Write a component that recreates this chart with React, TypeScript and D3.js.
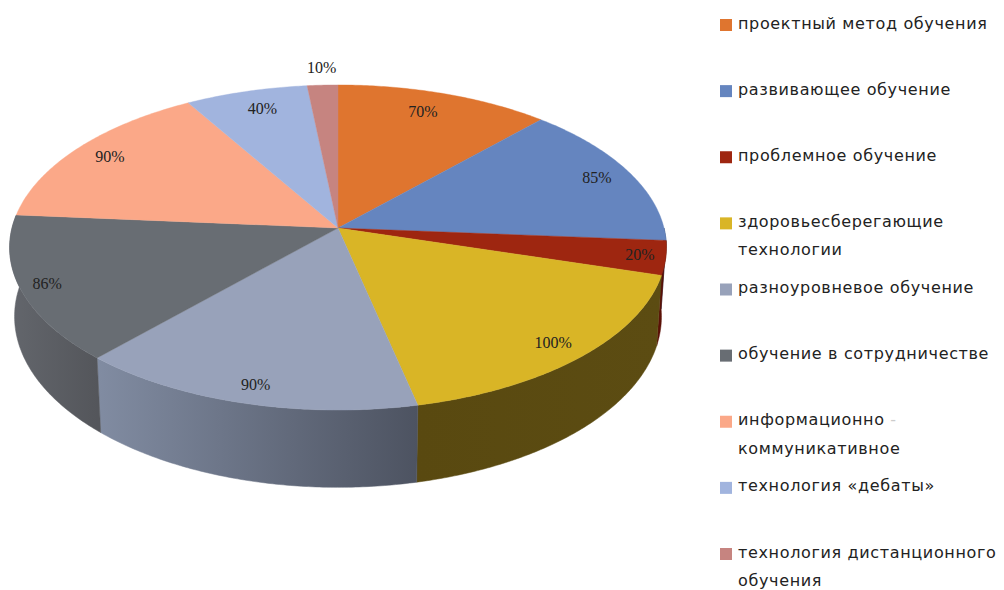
import { line, pie, range, scaleLinear, scalePoint } from "d3";

const categories = [
  ["проектный метод обучения"],
  ["развивающее обучение"],
  ["проблемное обучение"],
  ["здоровьесберегающие", "технологии"],
  ["разноуровневое обучение"],
  ["обучение в сотрудничестве"],
  ["информационно", "коммуникативное"],
  ["технология «дебаты»"],
  ["технология дистанционного", "обучения"],
];
const values = [70, 85, 20, 100, 90, 86, 90, 40, 10];
const valueLabels = ["70%", "85%", "20%", "100%", "90%", "86%", "90%", "40%", "10%"];
const topColors = ["#df752f", "#6585bf", "#9e2610", "#d9b526", "#98a2ba", "#686d73", "#fba888", "#a1b4de", "#c68480"];

// how far along the slice's middle each percent label sits (1 = rim), plus a small sideways nudge
const labelRadii = [0.85, 0.89, 0.92, 0.9, 0.91, 0.92, 0.88, 0.855, 1.135];
const labelNudge = [-7, -1, 1, -2, 3, 0, 2, 4, 1];

// perspective pie: a/b are the radii, p the foreshortening
const cx = 338;
const cy = 228;
const a = 160.2;
const b = 326;
const p = 0.12;
const depth = 68;
const bottomScale = 0.985;

const WALL_FROM = Math.PI / 2;
const WALL_TO = Math.PI * 1.525;

function project(angle: number, r: number): [number, number] {
  const x = r * Math.sin(angle);
  const y = -r * Math.cos(angle);
  const s = 1 / (1 - p * y);
  return [cx + b * x * s, cy + a * y * s];
}

function projectBottom(angle: number): [number, number] {
  const y = -Math.cos(angle);
  const s = 1 / (1 - p * y);
  const [px, py] = project(angle, 1);
  return [cx + (px - cx) * bottomScale, py + depth * s];
}

function samples(start: number, end: number) {
  const n = Math.max(2, Math.ceil((end - start) / 0.01));
  return range(n + 1).map((i) => start + ((end - start) * i) / n);
}

const path = line();

const wallGradients: Record<number, [string, string]> = {
  1: ["#33476b", "#33476b"],
  2: ["#4a0c04", "#5a1006"],
  3: ["#5c4c12", "#594910"],
  4: ["#4d5361", "#818ca2"],
  5: ["#54565b", "#62656b"],
};

export default function App() {
  const slices = pie<number>().sort(null).value((d) => d)(values);
  const legendY = scalePoint<number>()
    .domain(range(categories.length))
    .range([25, 554]);
  const legendStep = scaleLinear().domain([0, 1]).range([0, 28.5]);

  const walls = slices
    .map((slice, i) => ({ i, start: Math.max(slice.startAngle, WALL_FROM), end: Math.min(slice.endAngle, WALL_TO) }))
    .filter((w) => w.end > w.start);

  return (
    <svg width={1004} height={590} style={{ position: "absolute", left: 0, top: 0, background: "#fff" }}>
      <defs>
        {walls.map((w) => {
          const x1 = project(w.start, 1)[0];
          const x2 = project(w.end, 1)[0];
          const colors = wallGradients[w.i];
          return (
            <linearGradient key={w.i} id={`wall-${w.i}`} gradientUnits="userSpaceOnUse" x1={x1} y1={0} x2={x2} y2={0}>
              <stop offset="0" stopColor={colors[0]} />
              <stop offset="1" stopColor={colors[1]} />
            </linearGradient>
          );
        })}
      </defs>

      {walls.map((w) => {
        const angles = samples(w.start, w.end);
        const pts = [...angles.map((t) => project(t, 1)), ...angles.slice().reverse().map(projectBottom)];
        return <path key={w.i} d={`${path(pts)}Z`} fill={`url(#wall-${w.i})`} stroke={`url(#wall-${w.i})`} strokeWidth={0.5} />;
      })}

      {slices.map((slice, i) => {
        const pts = [[cx, cy] as [number, number], ...samples(slice.startAngle, slice.endAngle).map((t) => project(t, 1))];
        return <path key={i} d={`${path(pts)}Z`} fill={topColors[i]} stroke={topColors[i]} strokeWidth={0.4} />;
      })}

      {slices.map((slice, i) => {
        const [x, y] = project((slice.startAngle + slice.endAngle) / 2, labelRadii[i]);
        return (
          <text key={i} x={x + labelNudge[i]} y={y + 5} textAnchor="middle" fontFamily="'Liberation Serif', serif" fontSize={16} fill="#222">
            {valueLabels[i]}
          </text>
        );
      })}

      {categories.map((lines, i) => {
        const y = legendY(i) ?? 0;
        return (
          <g key={i}>
            <rect x={720} y={y - 6} width={12} height={12} fill={topColors[i]} />
            {lines.map((text, j) => (
              <text key={j} x={738} y={y + 3.5 + legendStep(j)} fontFamily="'DejaVu Sans', sans-serif" fontSize={16} letterSpacing={0.65} fill="#222">
                {text}
                {i === 6 && j === 0 ? <tspan fill="#ccc"> -</tspan> : null}
              </text>
            ))}
          </g>
        );
      })}
    </svg>
  );
}
